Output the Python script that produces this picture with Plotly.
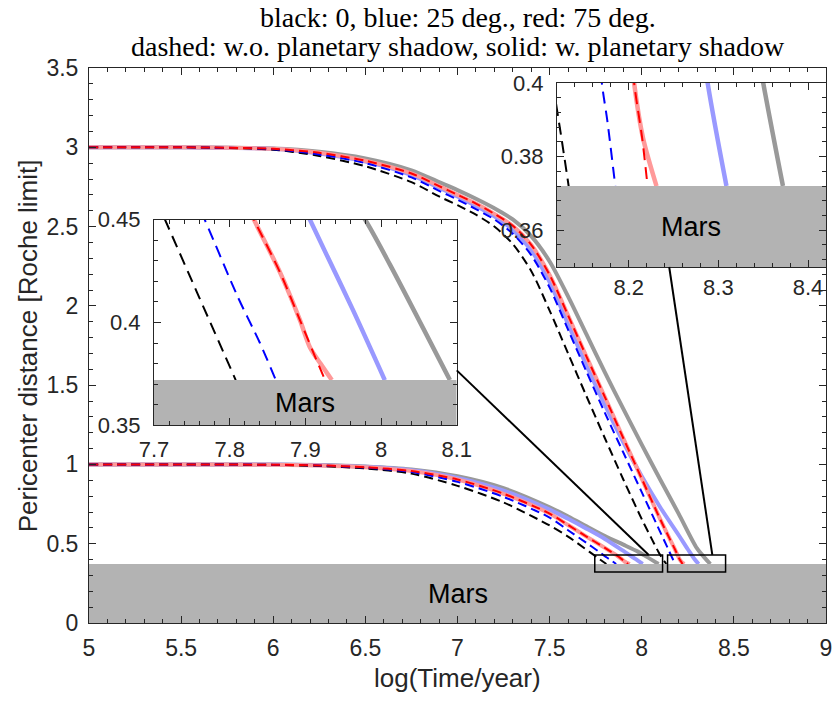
import plotly.graph_objects as go

MARS_TOP = 0.372

# ---- upper set: initial pericenter 3 Roche limits ----
up_gray_x = [5.0, 5.5, 6.0, 6.25, 6.5, 6.75, 6.9, 7.0, 7.1, 7.2, 7.3, 7.4, 7.5, 7.6, 7.7, 7.8, 7.9, 8.0, 8.1, 8.2, 8.3, 8.35, 8.372]
up_gray_y = [3.0, 3.0, 2.992, 2.972, 2.93, 2.855, 2.78, 2.73, 2.675, 2.615, 2.545, 2.44, 2.28, 2.06, 1.82, 1.58, 1.35, 1.125, 0.905, 0.69, 0.47, 0.40, 0.372]

up_lblue_x = [5.0, 5.5, 6.0, 6.25, 6.5, 6.75, 6.9, 7.0, 7.1, 7.2, 7.3, 7.4, 7.5, 7.6, 7.7, 7.8, 7.9, 8.0, 8.1, 8.2, 8.25, 8.288, 8.309]
up_lblue_y = [3.0, 3.0, 2.99, 2.96, 2.91, 2.825, 2.745, 2.69, 2.63, 2.565, 2.48, 2.35, 2.15, 1.885, 1.625, 1.375, 1.14, 0.925, 0.73, 0.555, 0.465, 0.40, 0.372]

up_pink_x = [5.0, 5.5, 6.0, 6.25, 6.5, 6.75, 6.9, 7.0, 7.1, 7.2, 7.3, 7.4, 7.5, 7.6, 7.7, 7.8, 7.9, 8.0, 8.1, 8.15, 8.18, 8.206, 8.216, 8.231]
up_pink_y = [3.0, 3.0, 2.99, 2.965, 2.915, 2.835, 2.755, 2.70, 2.645, 2.58, 2.505, 2.385, 2.195, 1.94, 1.68, 1.425, 1.165, 0.91, 0.655, 0.535, 0.465, 0.40, 0.385, 0.372]

up_black_x = [5.0, 5.5, 6.0, 6.25, 6.5, 6.75, 6.9, 7.0, 7.1, 7.2, 7.3, 7.4, 7.5, 7.6, 7.7, 7.8, 7.9, 8.0, 8.05, 8.09, 8.118, 8.125, 8.133]
up_black_y = [3.0, 3.0, 2.985, 2.945, 2.88, 2.78, 2.69, 2.635, 2.575, 2.50, 2.39, 2.22, 1.97, 1.70, 1.43, 1.165, 0.905, 0.655, 0.54, 0.45, 0.396, 0.385, 0.372]

up_blue_x = [5.0, 5.5, 6.0, 6.25, 6.5, 6.75, 6.9, 7.0, 7.1, 7.2, 7.3, 7.4, 7.5, 7.6, 7.7, 7.8, 7.9, 8.0, 8.1, 8.14, 8.17, 8.176, 8.185]
up_blue_y = [3.0, 3.0, 2.988, 2.955, 2.90, 2.81, 2.725, 2.67, 2.61, 2.545, 2.455, 2.32, 2.115, 1.85, 1.585, 1.325, 1.075, 0.825, 0.575, 0.475, 0.40, 0.39, 0.372]

up_red_x = [5.0, 5.5, 6.0, 6.25, 6.5, 6.75, 6.9, 7.0, 7.1, 7.2, 7.3, 7.4, 7.5, 7.6, 7.7, 7.8, 7.9, 8.0, 8.1, 8.15, 8.18, 8.206, 8.215, 8.221]
up_red_y = [3.0, 3.0, 2.99, 2.965, 2.915, 2.835, 2.755, 2.70, 2.645, 2.58, 2.505, 2.385, 2.195, 1.94, 1.68, 1.425, 1.165, 0.91, 0.655, 0.535, 0.465, 0.40, 0.385, 0.372]

# ---- lower set: initial pericenter 1 Roche limit ----
lo_gray_x = [5.0, 5.5, 6.0, 6.25, 6.5, 6.75, 7.0, 7.25, 7.5, 7.6, 7.7, 7.8, 7.9, 7.979, 8.012, 8.091]
lo_gray_y = [1.0, 1.0, 0.999, 0.996, 0.987, 0.968, 0.925, 0.85, 0.73, 0.672, 0.61, 0.548, 0.494, 0.45, 0.428, 0.372]

lo_lblue_x = [5.0, 5.5, 6.0, 6.25, 6.5, 6.75, 7.0, 7.25, 7.5, 7.6, 7.7, 7.8, 7.906, 7.928, 7.963, 8.005]
lo_lblue_y = [1.0, 1.0, 0.999, 0.995, 0.985, 0.963, 0.915, 0.835, 0.715, 0.657, 0.595, 0.53, 0.45, 0.433, 0.406, 0.372]

lo_pink_x = [5.0, 5.5, 6.0, 6.25, 6.5, 6.75, 7.0, 7.25, 7.5, 7.6, 7.7, 7.8, 7.832, 7.867, 7.893, 7.906, 7.92, 7.935]
lo_pink_y = [1.0, 1.0, 0.998, 0.994, 0.982, 0.958, 0.905, 0.815, 0.69, 0.618, 0.545, 0.474, 0.45, 0.424, 0.401, 0.388, 0.38, 0.372]

lo_black_x = [5.0, 5.5, 6.0, 6.25, 6.5, 6.75, 7.0, 7.25, 7.5, 7.6, 7.7145, 7.76, 7.808]
lo_black_y = [1.0, 1.0, 0.997, 0.99, 0.975, 0.942, 0.865, 0.76, 0.615, 0.545, 0.45, 0.412, 0.372]

lo_blue_x = [5.0, 5.5, 6.0, 6.25, 6.5, 6.75, 7.0, 7.25, 7.5, 7.6, 7.7, 7.767, 7.81, 7.84, 7.861]
lo_blue_y = [1.0, 1.0, 0.998, 0.993, 0.98, 0.952, 0.89, 0.795, 0.665, 0.585, 0.505, 0.45, 0.413, 0.39, 0.372]

lo_red_x = [5.0, 5.5, 6.0, 6.25, 6.5, 6.75, 7.0, 7.25, 7.5, 7.6, 7.7, 7.8, 7.832, 7.867, 7.893, 7.911, 7.926]
lo_red_y = [1.0, 1.0, 0.998, 0.994, 0.982, 0.958, 0.905, 0.815, 0.69, 0.618, 0.545, 0.474, 0.45, 0.424, 0.401, 0.385, 0.372]

# axis ranges
MAIN_X = [5, 9]
MAIN_Y = [0, 3.5]
IN1_X = [7.7, 8.1]
IN1_Y = [0.35, 0.45]
IN2_X = [8.12, 8.42]
IN2_Y = [0.35, 0.40]

# zoom boxes drawn on the main axes (as drawn in the figure) and connector lines
BOX1 = dict(x0=7.745, x1=8.113, y0=0.322, y1=0.429)
BOX2 = dict(x0=8.14, x1=8.455, y0=0.322, y1=0.429)
LINE1 = dict(x0=6.996, y0=1.593, x1=8.038, y1=0.429)
LINE2 = dict(x0=8.149, y0=2.245, x1=8.383, y1=0.429)

GRAY = "#999999"
LBLUE = "#9999FF"
PINK = "#FF9999"
MARS_COL = "#B3B3B3"
AXC = "#262626"
SANS = "Liberation Sans, Arial, Helvetica, sans-serif"
SERIF = "Liberation Serif, Times New Roman, serif"

fig = go.Figure()

solid_sets = {
    "up": [(up_gray_x, up_gray_y, GRAY), (up_lblue_x, up_lblue_y, LBLUE), (up_pink_x, up_pink_y, PINK)],
    "lo": [(lo_gray_x, lo_gray_y, GRAY), (lo_lblue_x, lo_lblue_y, LBLUE), (lo_pink_x, lo_pink_y, PINK)],
}
dash_sets = {
    "up": [(up_black_x, up_black_y, "#000000"), (up_blue_x, up_blue_y, "#0000FF"), (up_red_x, up_red_y, "#FF0000")],
    "lo": [(lo_black_x, lo_black_y, "#000000"), (lo_blue_x, lo_blue_y, "#0000FF"), (lo_red_x, lo_red_y, "#FF0000")],
}


def add_curves(key, xa, ya, wsolid, wdash, dash):
    for x, y, c in solid_sets[key]:
        fig.add_trace(go.Scatter(x=x, y=y, mode="lines", xaxis=xa, yaxis=ya,
                                 line=dict(color=c, width=wsolid, shape="spline", smoothing=0.8),
                                 showlegend=False, hoverinfo="skip"))
    for x, y, c in dash_sets[key]:
        fig.add_trace(go.Scatter(x=x, y=y, mode="lines", xaxis=xa, yaxis=ya,
                                 line=dict(color=c, width=wdash, dash=dash, shape="spline", smoothing=0.8),
                                 showlegend=False, hoverinfo="skip"))


def add_mars(xa, ya, xr, yr):
    fig.add_trace(go.Scatter(x=[xr[0], xr[1], xr[1], xr[0], xr[0]],
                             y=[yr[0], yr[0], MARS_TOP, MARS_TOP, yr[0]],
                             mode="lines", fill="toself", fillcolor=MARS_COL,
                             line=dict(width=0, color=MARS_COL), xaxis=xa, yaxis=ya,
                             showlegend=False, hoverinfo="skip"))


# main axes
add_curves("lo", "x", "y", 4, 2, "9px,5px")
add_curves("up", "x", "y", 4, 2, "9px,5px")
add_mars("x", "y", MAIN_X, MAIN_Y)
# inset 1 (lower set)
add_curves("lo", "x2", "y2", 4.5, 2, "12px,7px")
add_mars("x2", "y2", IN1_X, IN1_Y)
# inset 2 (upper set)
add_curves("up", "x3", "y3", 4.5, 2, "12px,7px")
add_mars("x3", "y3", IN2_X, IN2_Y)


def axis(rng, dtick, minor, domain, anchor, size, standoff, tick0=None):
    d = dict(range=rng, dtick=dtick, domain=domain, anchor=anchor, automargin=False,
             ticks="inside", ticklen=7, tickwidth=1, tickcolor=AXC,
             minor=dict(ticks="inside", dtick=minor, ticklen=4, tickcolor=AXC),
             showline=True, linecolor=AXC, linewidth=1, mirror="allticks",
             showgrid=False, zeroline=False,
             tickfont=dict(family=SANS, size=size, color=AXC),
             ticklabelstandoff=standoff)
    if tick0 is not None:
        d["tick0"] = tick0
    return d


fig.update_layout(
    width=836, height=702, autosize=False,
    margin=dict(l=89, r=10, t=68, b=79, pad=0, autoexpand=False),
    paper_bgcolor="white", plot_bgcolor="white",
    xaxis=axis(MAIN_X, 0.5, 0.1, [0, 1], "y", 23, 4),
    yaxis=axis(MAIN_Y, 0.5, 0.1, [0, 1], "x", 23, 5),
    xaxis2=axis(IN1_X, 0.1, 0.02, [0.0882, 0.4989], "y2", 22, 4),
    yaxis2=axis(IN1_Y, 0.05, 0.01, [0.3562, 0.7268], "x2", 22, 8),
    xaxis3=axis(IN2_X, 0.1, 0.02, [0.635, 1.0], "y3", 22, 1, tick0=8.2),
    yaxis3=axis(IN2_Y, 0.02, 0.004, [0.6414, 0.973], "x3", 22, 8, tick0=0.36),
)

# Mars labels
for xa, ya, xr in (("x", "y", MAIN_X), ("x2", "y2", IN1_X), ("x3", "y3", IN2_X)):
    yr = {"y": MAIN_Y, "y2": IN1_Y, "y3": IN2_Y}[ya]
    fig.add_annotation(x=(xr[0] + xr[1]) / 2, y=(yr[0] + MARS_TOP) / 2, xref=xa, yref=ya,
                       text="Mars", showarrow=False, font=dict(family=SANS, size=27, color="black"))

# zoom boxes and connectors
for b in (BOX1, BOX2):
    fig.add_shape(type="rect", xref="x", yref="y", line=dict(color="black", width=1.5),
                  fillcolor="rgba(0,0,0,0)", layer="above", **b)
for l in (LINE1, LINE2):
    fig.add_shape(type="line", xref="x", yref="y", line=dict(color="black", width=2),
                  layer="above", **l)

# titles
fig.add_annotation(x=0.5, y=1.0914, xref="paper", yref="paper", yanchor="middle",
                   text="black: 0, blue: 25 deg., red: 75 deg.", showarrow=False,
                   font=dict(family=SERIF, size=28, color="black"))
fig.add_annotation(x=0.5, y=1.0391, xref="paper", yref="paper", yanchor="middle",
                   text="dashed: w.o. planetary shadow, solid: w. planetary shadow", showarrow=False,
                   font=dict(family=SERIF, size=28, color="black"))
fig.add_annotation(x=0.5, y=-0.099, xref="paper", yref="paper", yanchor="middle",
                   text="log(Time/year)", showarrow=False,
                   font=dict(family=SANS, size=26, color=AXC))
fig.add_annotation(x=-0.083, y=0.5, xref="paper", yref="paper", xanchor="center", yanchor="middle",
                   text="Pericenter distance [Roche limit]", textangle=-90, showarrow=False,
                   font=dict(family=SANS, size=26, color=AXC))

fig.write_html("out.html", config={"displayModeBar": False, "responsive": False},
               post_script="document.body.style.margin='0px';document.body.style.overflow='hidden';")
